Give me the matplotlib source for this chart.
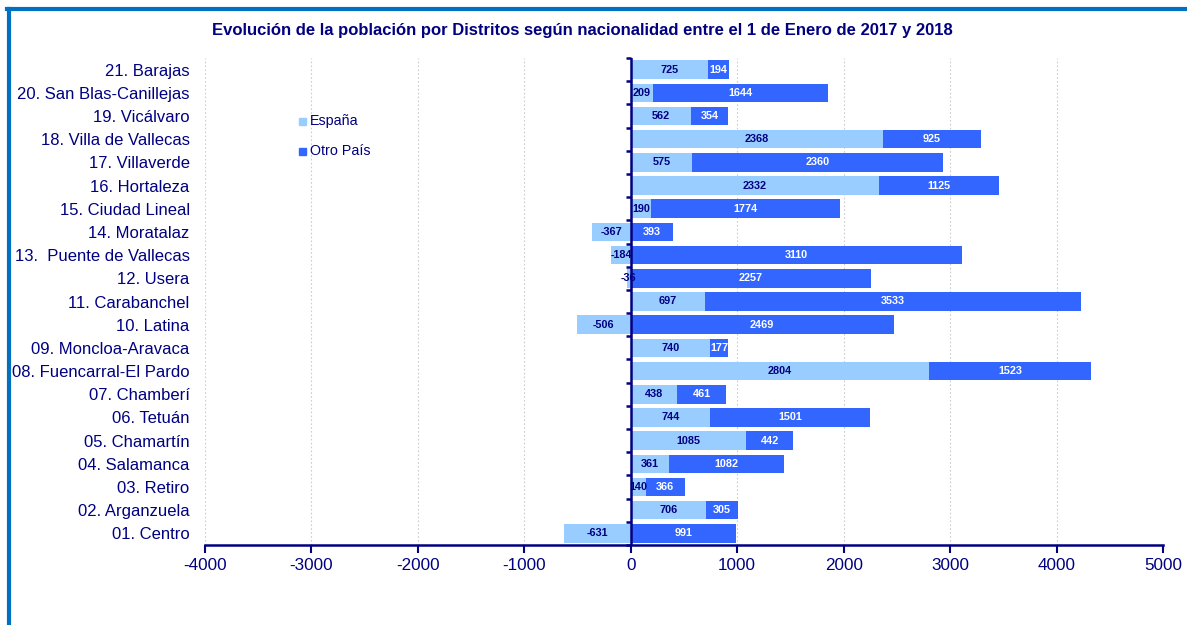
import matplotlib
matplotlib.use("Agg")
import matplotlib.pyplot as plt
from matplotlib.lines import Line2D
from matplotlib.patches import Rectangle
import numpy as np

plt.rcParams['font.family'] = ['Liberation Sans', 'DejaVu Sans']

districts = ["01. Centro", "02. Arganzuela", "03. Retiro", "04. Salamanca", "05. Chamartín",
             "06. Tetuán", "07. Chamberí", "08. Fuencarral-El Pardo", "09. Moncloa-Aravaca",
             "10. Latina", "11. Carabanchel", "12. Usera", "13.  Puente de Vallecas",
             "14. Moratalaz", "15. Ciudad Lineal", "16. Hortaleza", "17. Villaverde",
             "18. Villa de Vallecas", "19. Vicálvaro", "20. San Blas-Canillejas", "21. Barajas"]
espana = [-631, 706, 140, 361, 1085, 744, 438, 2804, 740, -506, 697, -36, -184,
          -367, 190, 2332, 575, 2368, 562, 209, 725]
otro_pais = [991, 305, 366, 1082, 442, 1501, 461, 1523, 177, 2469, 3533, 2257, 3110,
             393, 1774, 1125, 2360, 925, 354, 1644, 194]
xticks = [-4000, -3000, -2000, -1000, 0, 1000, 2000, 3000, 4000, 5000]
title = "Evolución de la población por Distritos según nacionalidad entre el 1 de Enero de 2017 y 2018"

NAVY = "#000080"
C_ES = "#99CCFF"
C_OP = "#3366FF"

W, H = 1187, 625
fig = plt.figure(figsize=(W / 100, H / 100), dpi=100)
ax = fig.add_axes([205 / W, 1 - 545 / H, (1163 - 205) / W, (545 - 58) / H])

y = np.arange(len(districts))
es = np.array(espana)
op = np.array(otro_pais)
left_op = np.maximum(es, 0)
ax.barh(y, es, height=0.8, color=C_ES, zorder=2)
ax.barh(y, op, left=left_op, height=0.8, color=C_OP, zorder=2)

for i in range(len(y)):
    ax.text(es[i] / 2, y[i], str(es[i]), ha="center", va="center", fontsize=7.8,
            fontweight="bold", color=NAVY, zorder=4)
    ax.text(left_op[i] + op[i] / 2, y[i], str(op[i]), ha="center", va="center", fontsize=7.8,
            fontweight="bold", color="white", zorder=4)

ax.set_xlim(-4000, 5000)
ax.set_ylim(-0.5, len(districts) - 0.5)
ax.set_xticks(xticks)
ax.set_xticklabels([str(v) for v in xticks], fontsize=12.3, color=NAVY)
ax.tick_params(axis="x", direction="out", length=6, width=1.5, color=NAVY, pad=3)
ax.set_yticks(y)
ax.set_yticklabels(districts, fontsize=12, color=NAVY)
ax.tick_params(axis="y", length=0, pad=11)

ax.grid(axis="x", linestyle=(0, (1.5, 2)), color="#CCCCCC", linewidth=0.8, zorder=0)
for s in ["top", "right", "left"]:
    ax.spines[s].set_visible(False)
ax.spines["bottom"].set_color(NAVY)
ax.spines["bottom"].set_linewidth(1.8)

# vertical axis at zero with category-boundary ticks
ax.axvline(0, color=NAVY, linewidth=1.8, zorder=5)
for b in np.arange(-0.5, len(districts), 1.0):
    ax.plot([-45, 0], [b, b], color=NAVY, linewidth=1.8, zorder=5, clip_on=False,
            solid_capstyle="butt")

# legend
fig.patches.append(Rectangle((299 / W, 1 - 125 / H), 7 / W, 7 / H, color=C_ES,
                             transform=fig.transFigure))
fig.text(310 / W, 1 - 121 / H, "España", fontsize=10.3, color=NAVY, va="center", ha="left")
fig.patches.append(Rectangle((299 / W, 1 - 155 / H), 7 / W, 7 / H, color=C_OP,
                             transform=fig.transFigure))
fig.text(310 / W, 1 - 151 / H, "Otro País", fontsize=10.3, color=NAVY, va="center", ha="left")

fig.text(582 / W, 1 - 31 / H, title, fontsize=12, fontweight="bold", color=NAVY,
         ha="center", va="center")

# outer frame (blue, top and left)
fig.add_artist(Line2D([8.5 / W, 8.5 / W], [0, 1 - 9 / H], color="#0070C0", linewidth=3,
                      transform=fig.transFigure))
fig.add_artist(Line2D([7 / W, 1], [1 - 9 / H, 1 - 9 / H], color="#0070C0", linewidth=3,
                      transform=fig.transFigure))

fig.savefig("out.png", dpi=100)
